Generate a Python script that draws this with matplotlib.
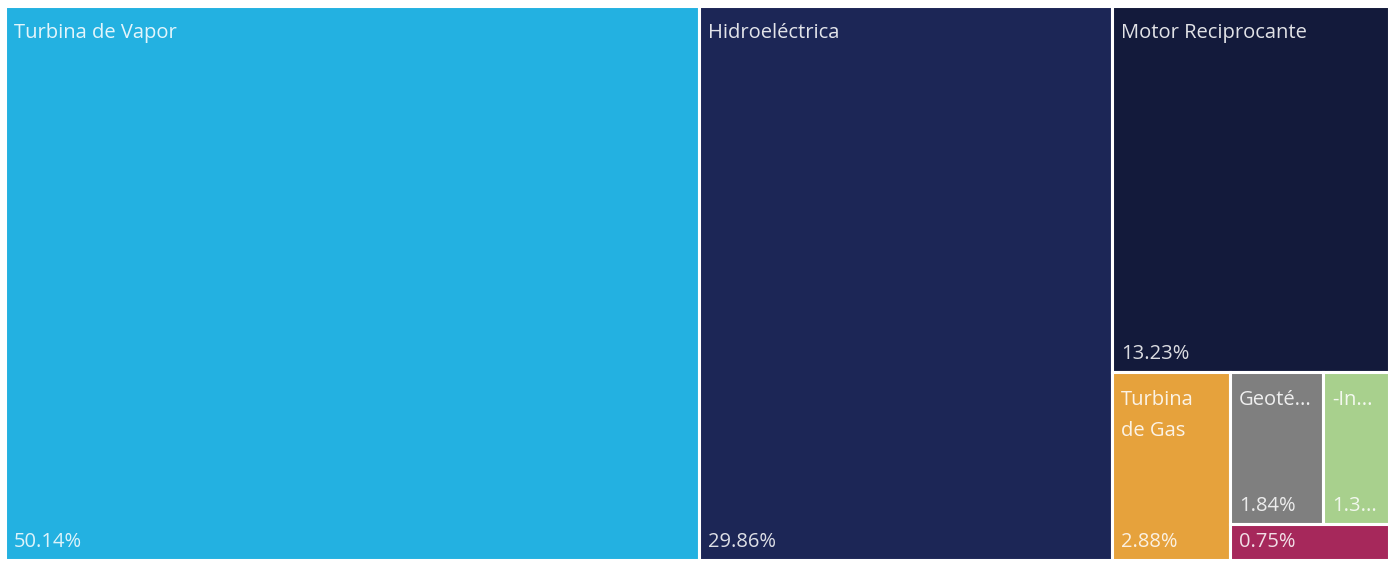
import matplotlib.pyplot as plt
from matplotlib.patches import Rectangle

# Data (share of generation by technology)
labels = ["Turbina de Vapor", "Hidroeléctrica", "Motor Reciprocante",
          "Turbina\nde Gas", "Geoté...", "-In...", ""]
pct_labels = ["50.14%", "29.86%", "13.23%", "2.88%", "1.84%", "1.3...", "0.75%"]
values = [50.14, 29.86, 13.23, 2.88, 1.84, 1.30, 0.75]
colors = ["#23B1E1", "#1C2656", "#131A3B", "#E6A23C",
          "#7F7F7F", "#A8D08D", "#A6285B"]

# strips laid out one after another (indices into values)
strips = [[0], [1], [2], [3], [4, 5], [6]]


def layout(vals, strips, x, y, w, h):
    rects = [None] * len(vals)
    remaining = sum(vals)
    for strip in strips:
        s = sum(vals[i] for i in strip)
        frac = s / remaining
        if w >= h:
            # vertical strip on the left, items stacked top to bottom
            sw = w * frac
            yy = y
            for i in strip:
                ih = h * vals[i] / s
                rects[i] = (x, yy, sw, ih)
                yy += ih
            x += sw
            w -= sw
        else:
            # horizontal strip on top, items side by side
            sh = h * frac
            xx = x
            for i in strip:
                iw = w * vals[i] / s
                rects[i] = (xx, y, iw, sh)
                xx += iw
            y += sh
            h -= sh
        remaining -= s
    return rects


fig = plt.figure(figsize=(13.91, 5.61), dpi=100)
W, H = 1384, 554
ax = fig.add_axes([5 / 1391, 1 - 560 / 561, W / 1391, H / 561])
ax.set_xlim(0, W)
ax.set_ylim(H, 0)
ax.axis("off")

plt.rcParams["font.family"] = ["Open Sans", "DejaVu Sans"]

rects = layout(values, strips, 0, 0, W, H)
for (rx, ry, rw, rh), lab, pl, c in zip(rects, labels, pct_labels, colors):
    ax.add_patch(Rectangle((rx, ry), rw, rh, facecolor=c,
                           edgecolor="white", linewidth=2.2))
    if lab:
        ax.annotate(lab, (rx, ry), xytext=(6.5, -12.5), textcoords="offset points",
                    ha="left", va="top", color="white", alpha=0.88,
                    fontsize=14.5, linespacing=1.75)
    ax.annotate(pl, (rx, ry + rh), xytext=(6.5, 6), textcoords="offset points",
                ha="left", va="bottom", color="white", alpha=0.85,
                fontsize=14.5)

fig.savefig("out.png", dpi=100, facecolor="white")
